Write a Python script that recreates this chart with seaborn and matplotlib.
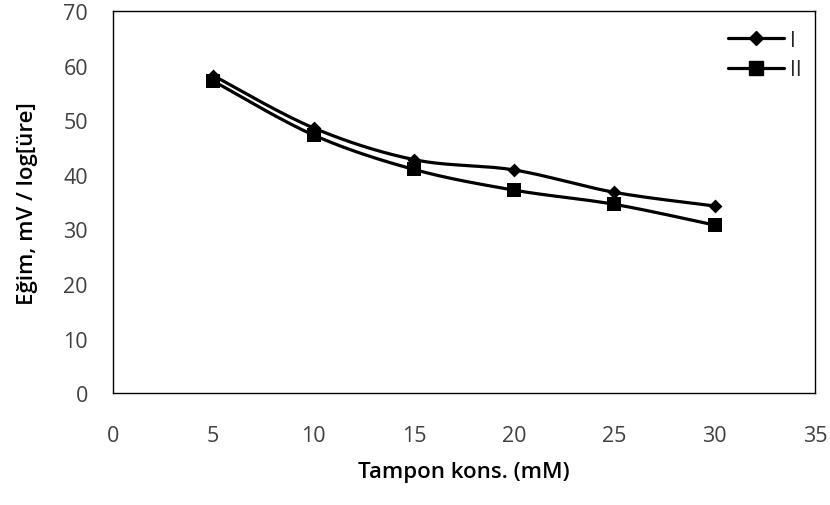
import numpy as np
import pandas as pd
import matplotlib
matplotlib.use("Agg")
import matplotlib.pyplot as plt
from matplotlib.lines import Line2D
import seaborn as sns

# Buffer concentration (mM) and slope values for the two electrodes
tampon = [5, 10, 15, 20, 25, 30]
egim_I = [58.2, 48.6, 42.8, 40.9, 36.8, 34.3]
egim_II = [57.2, 47.3, 41.0, 37.2, 34.6, 30.8]
series_names = ["I", "II"]
x_ticks = [0, 5, 10, 15, 20, 25, 30, 35]
y_ticks = [0, 10, 20, 30, 40, 50, 60, 70]


def smooth_curve(x, y, n=30):
    """Smoothed connector (cubic Bezier through the points, Catmull-Rom style)."""
    x = np.asarray(x, float)
    y = np.asarray(y, float)
    pts = np.column_stack([x, y])
    out = []
    for i in range(len(pts) - 1):
        p0 = pts[i - 1] if i > 0 else pts[i]
        p1 = pts[i]
        p2 = pts[i + 1]
        p3 = pts[i + 2] if i + 2 < len(pts) else pts[i + 1]
        c1 = p1 + (p2 - p0) / 6.0
        c2 = p2 - (p3 - p1) / 6.0
        t = np.linspace(0, 1, n)[:, None]
        seg = ((1 - t) ** 3) * p1 + 3 * ((1 - t) ** 2) * t * c1 + 3 * (1 - t) * t ** 2 * c2 + t ** 3 * p2
        out.append(seg if i == 0 else seg[1:])
    seg = np.vstack(out)
    return seg[:, 0], seg[:, 1]


sns.set_theme(style="white")
plt.rcParams["font.family"] = ["Open Sans", "DejaVu Sans"]

fig = plt.figure(figsize=(8.3, 5.06), dpi=100)
ax = fig.add_axes([0.136, 0.221, 0.846, 0.755])

markers = {"I": "D", "II": "s"}
msizes = {"I": 50, "II": 105}
for name, vals in zip(series_names, [egim_I, egim_II]):
    sx, sy = smooth_curve(tampon, vals)
    curve = pd.DataFrame({"x": sx, "y": sy})
    sns.lineplot(data=curve, x="x", y="y", ax=ax, color="black", linewidth=2.3,
                 sort=False, estimator=None)
    pts = pd.DataFrame({"x": tampon, "y": vals})
    sns.scatterplot(data=pts, x="x", y="y", ax=ax, color="black",
                    marker=markers[name], s=msizes[name], edgecolor="black",
                    linewidth=0, zorder=3)

ax.set_xlim(0, 35)
ax.set_ylim(0, 70)
ax.set_xticks(x_ticks)
ax.set_yticks(y_ticks)
ax.tick_params(axis="both", which="major", direction="out", length=6, width=1,
               color="black", labelsize=15.5, labelcolor="#404040")
ax.tick_params(axis="y", pad=12)
ax.tick_params(axis="x", pad=17)
for sp in ax.spines.values():
    sp.set_visible(True)
    sp.set_color("black")
    sp.set_linewidth(1)

ax.set_xlabel("Tampon kons. (mM)", fontsize=16, fontweight="semibold", color="black", labelpad=11)
ax.set_ylabel("Eğim, mV / log[üre]", fontsize=16, fontweight="semibold", color="black", labelpad=18)

handles = [
    Line2D([], [], color="black", linewidth=2.3, marker="D", markersize=7),
    Line2D([], [], color="black", linewidth=2.3, marker="s", markersize=9.5),
]
ax.legend(handles, series_names, loc="upper right", frameon=False, fontsize=15,
          handlelength=2.7, handletextpad=0.3, labelspacing=0.4,
          bbox_to_anchor=(1.005, 0.995), borderaxespad=0.4)

fig.savefig("out.png", dpi=100)
